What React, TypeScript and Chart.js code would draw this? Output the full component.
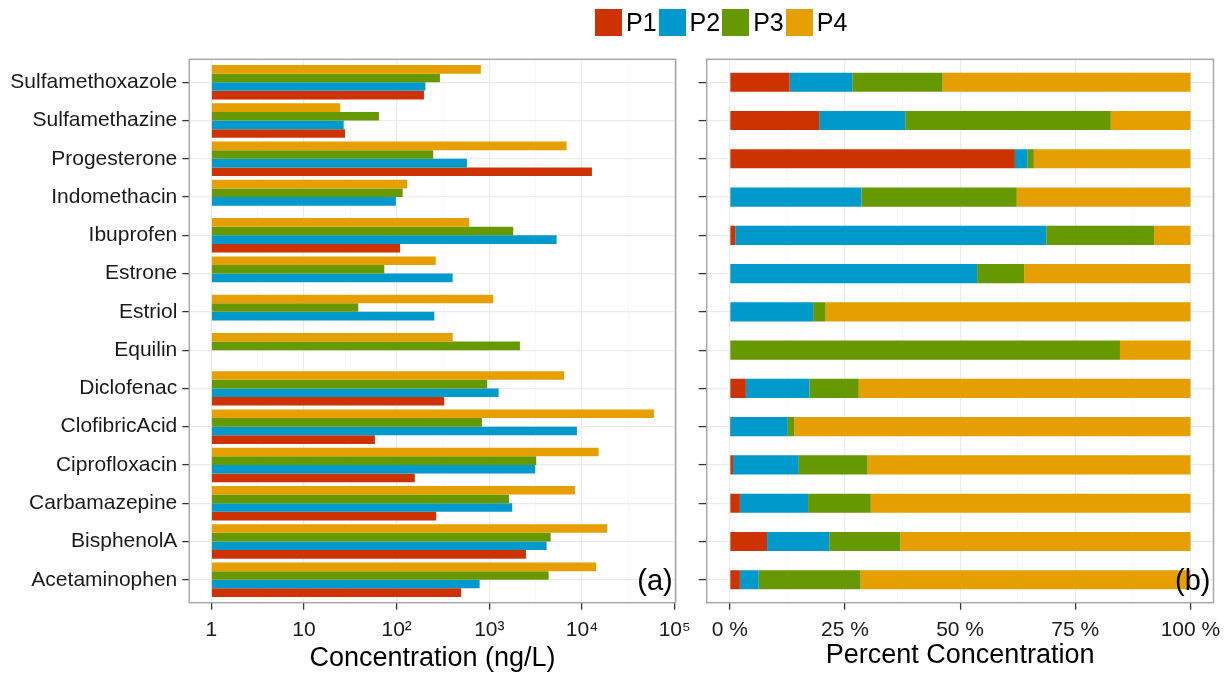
import React, { useEffect, useRef } from "react";
import { Chart, registerables } from "chart.js";

Chart.register(...registerables);

const FONT = "'Liberation Sans', Arial, sans-serif";

// ---- data ----
const categories = [
  "Sulfamethoxazole",
  "Sulfamethazine",
  "Progesterone",
  "Indomethacin",
  "Ibuprofen",
  "Estrone",
  "Estriol",
  "Equilin",
  "Diclofenac",
  "ClofibricAcid",
  "Ciprofloxacin",
  "Carbamazepine",
  "BisphenolA",
  "Acetaminophen",
];
const seriesNames = ["P1", "P2", "P3", "P4"];
const seriesColors = ["#CC3300", "#0099CC", "#669900", "#E69F00"];

// concentrations (ng/L), panel (a)
const concP1 = [197, 27.7, 12790, null, 109, null, null, null, 326, 58.3, 157, 267, 2483, 498];
const concP2 = [204, 26.8, 573, 98, 5320, 402, 255, null, 1260, 8810, 3126, 1766, 4150, 786];
const concP3 = [293, 64.4, 248, 116, 1811, 73.5, 38.5, 2138, 949, 832, 3205, 1627, 4585, 4360];
const concP4 = [811, 24.6, 6820, 130, 607, 264, 1102, 402, 6430, 59700, 15100, 8380, 18700, 14230];

// percent of total, panel (b)
const pctP1 = [13.0, 19.4, 61.9, 0, 1.2, 0, 0, 0, 3.5, 0.1, 0.7, 2.2, 8.1, 2.2];
const pctP2 = [13.6, 18.7, 2.7, 28.6, 67.5, 53.7, 18.1, 0, 13.8, 12.5, 14.3, 14.8, 13.5, 4.1];
const pctP3 = [19.6, 44.6, 1.4, 33.7, 23.4, 10.2, 2.7, 84.7, 10.7, 1.4, 14.9, 13.6, 15.4, 22.1];
const pctP4 = [53.8, 17.3, 34.0, 37.7, 7.9, 36.1, 79.2, 15.3, 72.0, 86.0, 70.1, 69.4, 63.0, 71.6];

// tick labels
const logTicks = [1, 10, 100, 1000, 10000, 100000];
const logTickLabels = ["1", "10", "10²", "10³", "10⁴", "10⁵"];
const pctTicks = [0, 25, 50, 75, 100];
const pctTickLabels = ["0 %", "25 %", "50 %", "75 %", "100 %"];

const concSeries = [concP1, concP2, concP3, concP4];
const pctSeries = [pctP1, pctP2, pctP3, pctP4];

// minor grid positions (midpoints between major ticks)
const logMinor = logTicks.slice(1).map((v, i) => Math.sqrt(v * logTicks[i]));
const pctMinor = pctTicks.slice(1).map((v, i) => (v + pctTicks[i]) / 2);

const MAJOR_GRID = "#EBEBEB";
const MINOR_GRID = "#F3F3F3";
const TICK_COLOR = "#333333";
const TEXT_COLOR = "#1A1A1A";

const CANVAS_W = 1230;
const CANVAS_H = 675;
const AREA_TOP = 59.3;
const AREA_BOTTOM = 602.7;

function panelPlugin(label: string) {
  return {
    id: "panelFrame",
    afterDraw(chart: any) {
      const { ctx, chartArea: a } = chart;
      ctx.save();
      ctx.strokeStyle = "#A8A8A8";
      ctx.lineWidth = 1.5;
      ctx.strokeRect(a.left, a.top, a.right - a.left, a.bottom - a.top);
      ctx.fillStyle = "#000";
      ctx.font = `29px ${FONT}`;
      ctx.textAlign = "right";
      ctx.textBaseline = "alphabetic";
      ctx.fillText(label, a.right - 3, a.bottom - 13);
      ctx.restore();
    },
  };
}

const categoryTicks = (s: any) => {
  s.ticks = categories.map((_, i) => ({ value: i }));
};

export default function App() {
  const leftRef = useRef<HTMLCanvasElement>(null);
  const rightRef = useRef<HTMLCanvasElement>(null);

  useEffect(() => {
    Chart.defaults.font.family = FONT;
    Chart.defaults.color = TEXT_COLOR;

    const leftDatasets = [3, 2, 1, 0].map((k) => ({
      label: seriesNames[k],
      data: concSeries[k].map((v, i) => ({ x: v, y: i })),
      backgroundColor: seriesColors[k],
      borderWidth: 0,
      base: 1,
      categoryPercentage: 0.9,
      barPercentage: 1.0,
    }));

    const isLogMajor = (v: number) => logTicks.indexOf(v) >= 0;
    const isPctMajor = (v: number) => pctTicks.indexOf(v) >= 0;

    const left = new Chart(leftRef.current as HTMLCanvasElement, {
      type: "bar",
      data: { datasets: leftDatasets as any },
      options: {
        indexAxis: "y",
        responsive: false,
        animation: false,
        events: [],
        layout: { padding: { left: 0, top: AREA_TOP, right: CANVAS_W - 675.7, bottom: 0 } },
        plugins: { legend: { display: false }, tooltip: { enabled: false }, title: { display: false } },
        scales: {
          x: {
            type: "logarithmic",
            position: "bottom",
            bounds: "data",
            min: 0.579,
            max: 102500,
            afterBuildTicks: (s: any) => {
              s.ticks = [...logTicks, ...logMinor].sort((a, b) => a - b).map((v) => ({ value: v }));
            },
            afterFit: (s: any) => {
              s.height = CANVAS_H - AREA_BOTTOM;
            },
            ticks: {
              autoSkip: false,
              maxRotation: 0,
              padding: 8,
              color: TEXT_COLOR,
              font: { size: 21 },
              callback: (v: any) => {
                const i = logTicks.indexOf(Number(v));
                return i >= 0 ? logTickLabels[i] : "";
              },
            },
            grid: {
              color: (c: any) => (c.tick && isLogMajor(c.tick.value) ? MAJOR_GRID : MINOR_GRID),
              lineWidth: (c: any) => (c.tick && isLogMajor(c.tick.value) ? 1.2 : 0.7),
              tickColor: (c: any) => (c.tick && isLogMajor(c.tick.value) ? TICK_COLOR : "rgba(0,0,0,0)"),
              tickWidth: 1.3,
              tickLength: 7,
            },
            border: { display: false },
            title: {
              display: true,
              text: "Concentration (ng/L)",
              color: "#000",
              font: { size: 27 },
              padding: { top: 0, bottom: 0 },
            },
          } as any,
          y: {
            type: "linear",
            bounds: "data",
            offset: false,
            min: -0.6,
            max: 13.6,
            reverse: true,
            afterBuildTicks: categoryTicks,
            afterFit: (s: any) => {
              s.width = 189.3;
            },
            ticks: {
              autoSkip: false,
              padding: 5,
              color: TEXT_COLOR,
              font: { size: 21 },
              callback: (v: any) => categories[Number(v)] ?? "",
            },
            grid: {
              offset: false,
              color: MAJOR_GRID,
              lineWidth: 1.2,
              tickColor: TICK_COLOR,
              tickWidth: 1.3,
              tickLength: 7,
            },
            border: { display: false },
          } as any,
        },
      },
      plugins: [panelPlugin("(a)")],
    });

    const rightDatasets = [0, 1, 2, 3].map((k) => ({
      label: seriesNames[k],
      data: pctSeries[k].map((v, i) => ({ x: v, y: i })),
      backgroundColor: seriesColors[k],
      borderWidth: 0,
      categoryPercentage: 0.5,
      barPercentage: 1.0,
    }));

    const right = new Chart(rightRef.current as HTMLCanvasElement, {
      type: "bar",
      data: { datasets: rightDatasets as any },
      options: {
        indexAxis: "y",
        responsive: false,
        animation: false,
        events: [],
        layout: { padding: { left: 686.7, top: AREA_TOP, right: CANVAS_W - 1213.5, bottom: 0 } },
        plugins: { legend: { display: false }, tooltip: { enabled: false }, title: { display: false } },
        scales: {
          x: {
            type: "linear",
            position: "bottom",
            bounds: "data",
            stacked: true,
            min: -5,
            max: 105,
            afterBuildTicks: (s: any) => {
              s.ticks = [...pctTicks, ...pctMinor].sort((a, b) => a - b).map((v) => ({ value: v }));
            },
            afterFit: (s: any) => {
              s.height = CANVAS_H - AREA_BOTTOM;
            },
            ticks: {
              autoSkip: false,
              maxRotation: 0,
              padding: 8,
              color: TEXT_COLOR,
              font: { size: 21 },
              callback: (v: any) => {
                const i = pctTicks.indexOf(Number(v));
                return i >= 0 ? pctTickLabels[i] : "";
              },
            },
            grid: {
              color: (c: any) => (c.tick && isPctMajor(c.tick.value) ? MAJOR_GRID : MINOR_GRID),
              lineWidth: (c: any) => (c.tick && isPctMajor(c.tick.value) ? 1.2 : 0.7),
              tickColor: (c: any) => (c.tick && isPctMajor(c.tick.value) ? TICK_COLOR : "rgba(0,0,0,0)"),
              tickWidth: 1.3,
              tickLength: 7,
            },
            border: { display: false },
            title: {
              display: true,
              text: "Percent Concentration",
              color: "#000",
              font: { size: 27 },
              padding: { top: 0, bottom: 3.6 },
            },
          } as any,
          y: {
            type: "linear",
            bounds: "data",
            offset: false,
            stacked: true,
            min: -0.6,
            max: 13.6,
            reverse: true,
            afterBuildTicks: categoryTicks,
            afterFit: (s: any) => {
              s.width = 20;
            },
            ticks: { display: false },
            grid: {
              offset: false,
              color: MAJOR_GRID,
              lineWidth: 1.2,
              tickColor: TICK_COLOR,
              tickWidth: 1.3,
              tickLength: 8,
            },
            border: { display: false },
          } as any,
        },
      },
      plugins: [panelPlugin("(b)")],
    });

    return () => {
      left.destroy();
      right.destroy();
    };
  }, []);

  return (
    <div
      style={{
        position: "fixed",
        left: 0,
        top: 0,
        width: CANVAS_W,
        height: CANVAS_H,
        background: "#ffffff",
        overflow: "hidden",
      }}
    >
      <canvas ref={leftRef} width={CANVAS_W} height={CANVAS_H} style={{ position: "absolute", left: 0, top: 0 }} />
      <canvas ref={rightRef} width={CANVAS_W} height={CANVAS_H} style={{ position: "absolute", left: 0, top: 0 }} />
      <div
        style={{
          position: "absolute",
          left: 595,
          top: 9,
          height: 27,
          display: "flex",
          alignItems: "center",
          fontFamily: FONT,
          fontSize: 25,
          color: "#000",
          whiteSpace: "nowrap",
        }}
      >
        {seriesNames.map((name, k) => (
          <div key={name} style={{ display: "flex", alignItems: "center", marginRight: 2 }}>
            <div style={{ width: 27, height: 27, background: seriesColors[k], marginRight: 4 }} />
            <span style={{ lineHeight: "27px" }}>{name}</span>
          </div>
        ))}
      </div>
    </div>
  );
}
